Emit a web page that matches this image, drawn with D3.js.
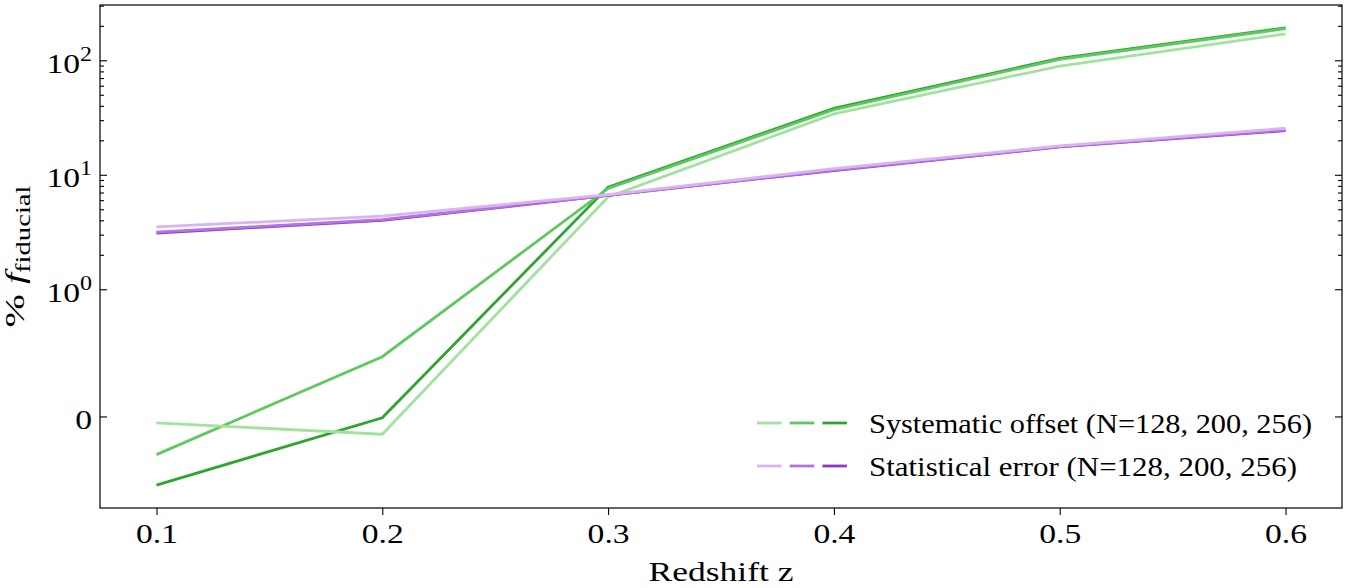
<!DOCTYPE html>
<html>
<head>
<meta charset="utf-8">
<script src="https://cdn.jsdelivr.net/npm/d3@7"></script>
<style>
	body{margin:0;background:#fff;}
	text{font-family:"Liberation Serif","DejaVu Serif",serif;fill:#000;}
</style>
</head>
<body>
<div id="container"></div>
<script>
// values (y is % of f_fiducial)
let redshift = [0.1, 0.2, 0.3, 0.4, 0.5, 0.6];
let sys128 = [-0.05, -0.14, 6.4, 34, 89, 170];
let sys200 = [-0.30, 0.47, 7.6, 37, 102, 189];
let sys256 = [-0.54, -0.01, 7.8, 38, 104, 192];
let stat128 = [3.5, 4.35, 6.7, 11.3, 17.9, 25.5];
let stat200 = [3.15, 4.05, 6.6, 11.0, 17.6, 24.6];
let stat256 = [3.1, 4.0, 6.6, 10.9, 17.5, 24.3];
let majorTicks = [0, 1, 10, 100];
let majorLabels = [["0", ""], ["10", "0"], ["10", "1"], ["10", "2"]];
let legendLabels = ["Systematic offset (N=128, 200, 256)", "Statistical error (N=128, 200, 256)"];

let sysColors = ["#9fe39f", "#5ec95e", "#2ea52e"];
let statColors = ["#dab4f0", "#b274e0", "#9434c4"];

let margin = {top: 5, right: 15, bottom: 80, left: 100},
	width = 1357 - margin.left - margin.right,
	height = 588 - margin.top - margin.bottom;
let fs = 28;      // font size
let stretch = 1.2; // the reference glyphs are wider than Liberation Serif

// matplotlib style symlog, linthresh=1, linscale=1
function symT(v){
	let s = 1/(1-1/10);
	let a = Math.abs(v);
	let t = a <= 1 ? a*s : s + Math.log10(a);
	return v < 0 ? -t : t;
}

// widen a text element horizontally
function widen(sel, w){
	sel.each(function(){
		let len = w || this.getComputedTextLength()*stretch;
		d3.select(this).attr("textLength", len).attr("lengthAdjust", "spacingAndGlyphs");
	});
}

let allSeries = [sys256, sys200, sys128, stat256, stat200, stat128];
let tVals = allSeries.flat().map(symT);
let tMin = d3.min(tVals), tMax = d3.max(tVals);
let pad = (tMax - tMin)*0.05;

var xScale = d3.scaleLinear().domain([0.075, 0.625]).range([0, width]);
var yScale = d3.scaleLinear().domain([tMin - pad, tMax + pad]).range([height, 0]);

let svg = d3.select("div#container").append("svg")
	.attr("width", 1357).attr("height", 588)
	.append("g")
	.attr("transform", "translate(" + margin.left + "," + margin.top + ")");

// minor ticks in the log part
let minorTicks = [];
[1, 10, 100].forEach(function(dec){
	for(let k=2;k<10;k++){
		let t = symT(k*dec);
		if(t <= yScale.domain()[1]) minorTicks.push(t);
	}
});

function styleAxis(g){
	g.select(".domain").remove();
	g.selectAll("line").attr("stroke", "#000").attr("stroke-width", 1.1);
}

// x axis, ticks pointing out
svg.append("g")
	.attr("transform", "translate(0," + height + ")")
	.call(d3.axisBottom(xScale).tickValues(redshift).tickFormat(d3.format(".1f")).tickSize(7).tickPadding(8))
	.call(styleAxis)
	.selectAll("text").attr("font-size", fs).attr("font-family", null)
	.call(widen);

// y axis left, ticks pointing in
let yAxis = svg.append("g")
	.call(d3.axisLeft(yScale).tickValues(majorTicks.map(symT)).tickFormat("").tickSizeInner(-7).tickSizeOuter(0).tickPadding(8))
	.call(styleAxis);
yAxis.selectAll(".tick text").each(function(d, i){
	let t = d3.select(this).attr("font-size", fs).attr("font-family", null).attr("dy", "0.42em");
	t.append("tspan").text(majorLabels[i][0]);
	if(majorLabels[i][1]) t.append("tspan").attr("font-size", 20).attr("dy", "-0.6em").text(majorLabels[i][1]);
});
yAxis.selectAll(".tick text").call(widen);
svg.append("g")
	.call(d3.axisLeft(yScale).tickValues(minorTicks).tickFormat("").tickSizeInner(-4).tickSizeOuter(0))
	.call(styleAxis);

// y axis right, mirrored
svg.append("g")
	.attr("transform", "translate(" + width + ",0)")
	.call(d3.axisRight(yScale).tickValues(majorTicks.map(symT)).tickFormat("").tickSizeInner(-7).tickSizeOuter(0))
	.call(styleAxis);
svg.append("g")
	.attr("transform", "translate(" + width + ",0)")
	.call(d3.axisRight(yScale).tickValues(minorTicks).tickFormat("").tickSizeInner(-4).tickSizeOuter(0))
	.call(styleAxis);

// lines (drawn N=256 first so the lighter ones sit on top)
let line = d3.line()
	.x(function(d, i){ return xScale(redshift[i]); })
	.y(function(d){ return yScale(symT(d)); });

[[sys256, sysColors[2]], [sys200, sysColors[1]], [sys128, sysColors[0]],
 [stat256, statColors[2]], [stat200, statColors[1]], [stat128, statColors[0]]].forEach(function(s){
	svg.append("path")
		.datum(s[0])
		.attr("fill", "none")
		.attr("stroke", s[1])
		.attr("stroke-width", 2.8)
		.attr("d", line);
});

// frame
svg.append("rect")
	.attr("x", 0).attr("y", 0).attr("width", width).attr("height", height)
	.attr("fill", "none").attr("stroke", "#000").attr("stroke-width", 1.2);

// legend
let legend = svg.append("g").attr("transform", "translate(657,418)");
[sysColors, statColors].forEach(function(cols, r){
	let row = legend.append("g").attr("transform", "translate(0," + (r*43) + ")");
	cols.forEach(function(c, j){
		row.append("line")
			.attr("x1", j*32.7).attr("x2", j*32.7 + 24.5)
			.attr("y1", 0).attr("y2", 0)
			.attr("stroke", c).attr("stroke-width", 2.8);
	});
	row.append("text")
		.attr("x", 112).attr("y", 0).attr("dy", "0.35em")
		.attr("font-size", fs)
		.text(legendLabels[r])
		.call(widen, r === 0 ? 443 : 428);
});

// axis labels
svg.append("text")
	.attr("x", width/2).attr("y", height + 73)
	.attr("text-anchor", "middle").attr("font-size", fs)
	.text("Redshift z")
	.call(widen, 145);

let yl = svg.append("text")
	.attr("transform", "translate(" + (-76) + "," + (height/2) + ") rotate(-90)")
	.attr("text-anchor", "middle").attr("font-size", fs);
yl.append("tspan").text("% ");
yl.append("tspan").attr("font-style", "italic").text("f");
yl.append("tspan").attr("font-size", 20).attr("dy", "0.3em").text("fiducial");
yl.call(widen, 142);
</script>
</body>
</html>
